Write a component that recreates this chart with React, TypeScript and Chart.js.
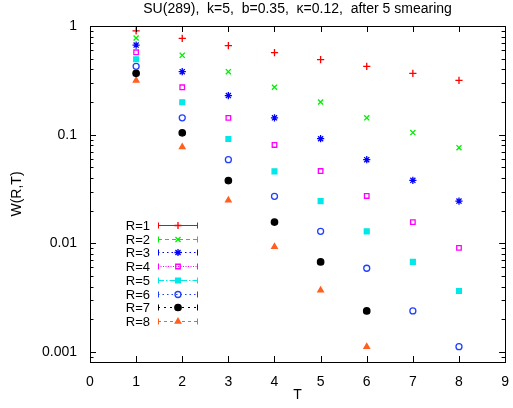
import React, { useEffect, useRef } from "react";
import { Chart, registerables } from "chart.js";
import { drawPoint } from "chart.js/helpers";

Chart.register(...registerables);

const TITLE = "SU(289),  k=5,  b=0.35,  \u03ba=0.12,  after 5 smearing";
const T_VALUES = [1, 2, 3, 4, 5, 6, 7, 8];
const R_LABELS = ["R=1", "R=2", "R=3", "R=4", "R=5", "R=6", "R=7", "R=8"];

const W_R1 = [0.9, 0.77, 0.659, 0.568, 0.49, 0.426, 0.367, 0.316];
const W_R2 = [0.776, 0.537, 0.38, 0.273, 0.2, 0.143, 0.1045, 0.0759];
const W_R3 = [0.668, 0.38, 0.229, 0.143, 0.0918, 0.0589, 0.038, 0.0245];
const W_R4 = [0.573, 0.273, 0.143, 0.0804, 0.0463, 0.0273, 0.0157, 0.0091];
const W_R5 = [0.494, 0.199, 0.0912, 0.046, 0.0245, 0.0129, 0.00675, 0.00365];
const W_R6 = [0.426, 0.143, 0.0589, 0.0271, 0.0129, 0.0059, 0.00239, 0.00112];
const W_R7 = [0.367, 0.104, 0.0378, 0.0157, 0.00675, 0.00239, null, null];
const W_R8 = [0.316, 0.077, 0.0249, 0.0093, 0.0037, 0.00112, null, null];

const X_TICKS = [0, 1, 2, 3, 4, 5, 6, 7, 8, 9];
const Y_MAJOR_TICKS = [0.001, 0.01, 0.1, 1];
const Y_MINOR_MULTIPLIERS = [2, 3, 4, 5, 6, 7, 8, 9];
const X_MIN = 0;
const X_MAX = 9;
const Y_MIN = 0.00081;
const Y_MAX = 1;

const SERIES = [W_R1, W_R2, W_R3, W_R4, W_R5, W_R6, W_R7, W_R8];
const COLORS = ["#ff0000", "#00ee00", "#0000ff", "#ff00ff", "#00e8e8", "#2040ff", "#000000", "#ff6020"];
const POINT_STYLES = ["cross", "crossRot", "star", "rect", "rect", "circle", "circle", "triangle"];
const FILLED = [false, false, false, false, true, false, true, true];
const RADII = [3.6, 3.6, 3.6, 3.2, 3.4, 3, 3.2, 3.2];
const DASHES: number[][] = [[], [4, 3], [1.5, 3], [1, 1.5], [6, 2, 1.5, 2], [1.5, 3], [2, 4], [3, 3]];

const FONT = "'Liberation Sans', Arial, Helvetica, sans-serif";

const framePlugin = {
  id: "gnuFrame",
  afterDatasetsDraw(chart: any) {
    const { ctx, chartArea: a, scales } = chart;
    const xs = scales.x;
    const ys = scales.y;
    ctx.save();
    ctx.strokeStyle = "#000";
    ctx.lineWidth = 1;
    const major = 6;
    const minor = 3.5;
    ctx.beginPath();
    for (const v of X_TICKS) {
      const px = Math.round(xs.getPixelForValue(v)) + 0.5;
      ctx.moveTo(px, a.bottom);
      ctx.lineTo(px, a.bottom - major);
      ctx.moveTo(px, a.top);
      ctx.lineTo(px, a.top + major);
    }
    const tickAt = (v: number, len: number) => {
      if (v > Y_MAX || v < Y_MIN) return;
      const q = Math.round(ys.getPixelForValue(v)) + 0.5;
      ctx.moveTo(a.left, q);
      ctx.lineTo(a.left + len, q);
      ctx.moveTo(a.right, q);
      ctx.lineTo(a.right - len, q);
    };
    for (const m of Y_MAJOR_TICKS) {
      tickAt(m, major);
      for (const k of Y_MINOR_MULTIPLIERS) tickAt(m * k, minor);
    }
    for (const k of Y_MINOR_MULTIPLIERS) tickAt((Y_MAJOR_TICKS[0] / 10) * k, minor);
    ctx.stroke();
    ctx.strokeRect(Math.round(a.left) + 0.5, Math.round(a.top) + 0.5, Math.round(a.right - a.left), Math.round(a.bottom - a.top));

    // legend (gnuplot style: text, then line sample with error bar caps and marker)
    const textRight = a.left + 60;
    const sx0 = a.left + 68;
    const sx1 = a.left + 108;
    const y0 = a.top + 199;
    const dy = 13.7;
    ctx.font = `13px ${FONT}`;
    ctx.textAlign = "right";
    ctx.textBaseline = "middle";
    chart.data.datasets.forEach((ds: any, i: number) => {
      const y = Math.round(y0 + i * dy) + 0.5;
      ctx.fillStyle = "#000";
      ctx.fillText(ds.label, textRight, y + 1);
      ctx.strokeStyle = ds.borderColor;
      ctx.lineWidth = 1;
      ctx.setLineDash(DASHES[i]);
      ctx.beginPath();
      ctx.moveTo(sx0, y);
      ctx.lineTo(sx1, y);
      ctx.stroke();
      ctx.setLineDash([]);
      ctx.beginPath();
      ctx.moveTo(sx0 + 0.5, y - 3);
      ctx.lineTo(sx0 + 0.5, y + 3);
      ctx.moveTo(sx1 - 0.5, y - 3);
      ctx.lineTo(sx1 - 0.5, y + 3);
      ctx.stroke();
      ctx.strokeStyle = ds.borderColor;
      ctx.fillStyle = ds.backgroundColor;
      ctx.lineWidth = ds.borderWidth;
      drawPoint(ctx, { pointStyle: ds.pointStyle, radius: ds.pointRadius, rotation: 0, borderWidth: ds.borderWidth } as any, (sx0 + sx1) / 2, y);
    });
    ctx.restore();
  },
};

export default function App() {
  const ref = useRef<HTMLCanvasElement | null>(null);
  useEffect(() => {
    document.body.style.margin = "0";
    const canvas = ref.current!;
    const datasets = SERIES.map((vals, i) => ({
      label: R_LABELS[i],
      data: T_VALUES.map((t, j) => ({ x: t, y: vals[j] })).filter((p) => p.y !== null),
      showLine: false,
      borderColor: COLORS[i],
      backgroundColor: FILLED[i] ? COLORS[i] : "rgba(255,255,255,0)",
      pointStyle: POINT_STYLES[i],
      pointRadius: RADII[i],
      pointBorderWidth: 1.3,
      borderWidth: 1.3,
    }));
    const chart = new Chart(canvas, {
      type: "scatter",
      data: { datasets },
      plugins: [framePlugin],
      options: {
        responsive: false,
        animation: false,
        layout: { padding: { left: 0, right: 5, top: 0, bottom: 0 } },
        plugins: {
          legend: { display: false },
          tooltip: { enabled: false },
          title: {
            display: true,
            text: TITLE,
            fullSize: false,
            color: "#000",
            font: { family: FONT, size: 14, weight: "normal" },
            padding: { top: 1, bottom: 8.2 },
          },
        },
        scales: {
          x: {
            type: "linear",
            min: X_MIN,
            max: X_MAX,
            grid: { display: false },
            border: { display: false },
            afterBuildTicks: (s: any) => {
              s.ticks = X_TICKS.map((v) => ({ value: v }));
            },
            ticks: { color: "#000", font: { family: FONT, size: 14 }, padding: 4, maxRotation: 0 },
            title: { display: true, text: "T", color: "#000", font: { family: FONT, size: 14 }, padding: { top: 0, bottom: 4.6 } },
            afterFit: (s: any) => {
              s.height = 46;
            },
          },
          y: {
            type: "logarithmic",
            min: Y_MIN,
            max: Y_MAX,
            grid: { display: false },
            border: { display: false },
            afterBuildTicks: (s: any) => {
              s.ticks = Y_MAJOR_TICKS.map((v) => ({ value: v }));
            },
            ticks: {
              color: "#000",
              font: { family: FONT, size: 14 },
              padding: 5,
              callback: (v: any) => String(v),
            },
            title: { display: true, text: "W(R,T)", color: "#000", font: { family: FONT, size: 14 }, padding: { top: 9, bottom: 0 } },
            afterFit: (s: any) => {
              s.width = 90;
            },
          },
        },
      } as any,
    });
    return () => chart.destroy();
  }, []);
  return (
    <div style={{ position: "absolute", left: 0, top: 0, width: 513, height: 408, background: "#fff" }}>
      <canvas ref={ref} width={513} height={408} />
    </div>
  );
}
